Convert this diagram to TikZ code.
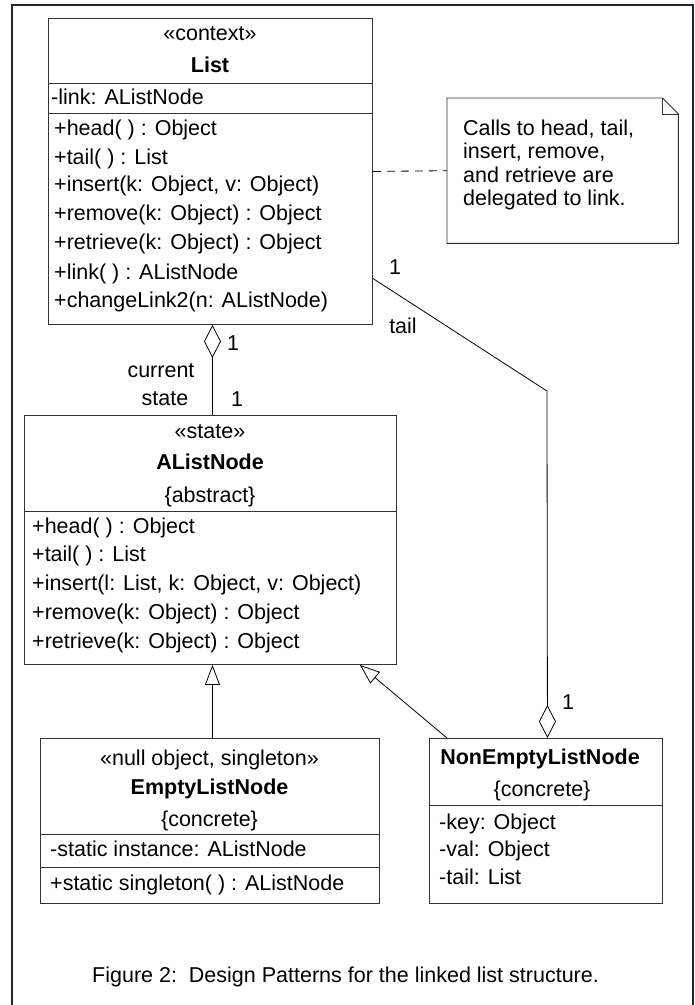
\documentclass[tikz,border=0pt]{standalone}
\usepackage{fontspec}
\setmainfont{Liberation Sans}
\usetikzlibrary{arrows.meta}
\tikzset{
  classbox/.style={draw=black!80, line width=0.9pt, inner sep=0pt, anchor=north west},
  sepline/.style={draw=black!80, line width=0.9pt},
  txt/.style={inner sep=0pt, font=\fontsize{21.5}{26}\selectfont},
  ctr/.style={txt, anchor=base},
  lft/.style={txt, anchor=base west},
  lbl/.style={txt, anchor=center},
  conn/.style={draw=black, line width=0.8pt},
  aggr/.style={conn, {Diamond[open, length=33pt, width=17pt]}-},
  gener/.style={conn, -{Triangle[open, length=20pt, width=15pt]}},
}
\begin{document}
\begin{tikzpicture}[x=1pt, y=-1pt]
\useasboundingbox (0,0) rectangle (695,1005);

% outer frame (open at the bottom)
\draw[line width=1.8pt, black!85] (12,1006) -- (12,5) -- (693,5) -- (693,1006);

% ---------- List ----------
\node[classbox, minimum width=324pt, minimum height=306pt] (list) at (48,18) {};
\draw[sepline] (list.west |- 0,83) -- (list.east |- 0,83);
\draw[sepline] (list.west |- 0,113) -- (list.east |- 0,113);
\node[ctr] (listst) at (210,40.5) {«context»};
\node[ctr] (listname) at (210,72.5) {\textbf{List}};
\node[lft] (lista1) at (51,104.5) {-link: AListNode};
\node[lft] (listm1) at (54,135.5) {+head( ) : Object};
\node[lft] (listm2) at (54,164.5) {+tail( ) : List};
\node[lft] (listm3) at (54,191.5) {+insert(k: Object, v: Object)};
\node[lft] (listm4) at (54,220.5) {+remove(k: Object) : Object};
\node[lft] (listm5) at (54,249.5) {+retrieve(k: Object) : Object};
\node[lft] (listm6) at (54,279.5) {+link( ) : AListNode};
\node[lft] (listm7) at (54,307.5) {+changeLink2(n: AListNode)};

% ---------- note ----------
\node[inner sep=0pt, anchor=north west, minimum width=231pt, minimum height=145pt] (note) at (447,98) {};
\draw[sepline] (note.north west) -- ([xshift=-16pt]note.north east)
  -- ([yshift=-16pt]note.north east) -- (note.south east) -- (note.south west) -- cycle;
\draw[sepline] ([xshift=-16pt]note.north east) |- ([yshift=-16pt]note.north east);
\node[lft] (note1) at (463,135.5) {Calls to head, tail,};
\node[lft] (note2) at (463,158.5) {insert, remove,};
\node[lft] (note3) at (463,182.5) {and retrieve are};
\node[lft] (note4) at (463,205.5) {delegated to link.};
\draw[conn, dash pattern=on 8pt off 6pt] (list.east) -- (note.west);

% ---------- AListNode ----------
\node[classbox, minimum width=372pt, minimum height=249pt] (alist) at (24,415) {};
\draw[sepline] (alist.west |- 0,511) -- (alist.east |- 0,511);
\node[ctr] (alistst) at (210,438.5) {«state»};
\node[ctr] (alistname) at (210,469.5) {\textbf{AListNode}};
\node[ctr] (alistprop) at (210,502.5) {\{abstract\}};
\node[lft] (alistm1) at (32,533.5) {+head( ) : Object};
\node[lft] (alistm2) at (32,561.5) {+tail( ) : List};
\node[lft] (alistm3) at (32,590.5) {+insert(l: List, k: Object, v: Object)};
\node[lft] (alistm4) at (32,619.5) {+remove(k: Object) : Object};
\node[lft] (alistm5) at (32,648.5) {+retrieve(k: Object) : Object};

% ---------- EmptyListNode ----------
\node[classbox, minimum width=339pt, minimum height=165pt] (empty) at (40,738) {};
\draw[sepline] (empty.west |- 0,834) -- (empty.east |- 0,834);
\draw[sepline] (empty.west |- 0,867) -- (empty.east |- 0,867);
\node[ctr] (emptyst) at (209.5,765.5) {«null object, singleton»};
\node[ctr] (emptyname) at (209.5,794.5) {\textbf{EmptyListNode}};
\node[ctr] (emptyprop) at (209.5,826.5) {\{concrete\}};
\node[lft] (emptya1) at (50,856.5) {-static instance: AListNode};
\node[lft] (emptym1) at (50,890.5) {+static singleton( ) : AListNode};

% ---------- NonEmptyListNode ----------
\node[classbox, minimum width=233pt, minimum height=165pt] (nonempty) at (429,738) {};
\draw[sepline] (nonempty.west |- 0,805) -- (nonempty.east |- 0,805);
\node[ctr] (nonemptyname) at (540,764.5) {\textbf{NonEmptyListNode}};
\node[ctr] (nonemptyprop) at (542,796.5) {\{concrete\}};
\node[lft] (nonemptya1) at (439,829.5) {-key: Object};
\node[lft] (nonemptya2) at (439,856.5) {-val: Object};
\node[lft] (nonemptya3) at (439,884.5) {-tail: List};

% ---------- relations ----------
% List <>-- AListNode (current state)
\draw[aggr] ([xshift=2pt]list.south) -- ([xshift=2pt]alist.north);
\node[lbl] (m1) at (233,343) {1};
\node[lbl] (rolecur) at (161,371) {current};
\node[lbl] (rolest) at (165,399) {state};
\node[lbl] (m2) at (237,399) {1};

% NonEmptyListNode <>-- List (tail)
\coordinate (bend) at (547,391);
\draw[aggr] ([xshift=1.5pt]nonempty.north) -- (bend) -- ([yshift=-107pt]list.east);
\node[lbl] (m3) at (395,267) {1};
\node[lbl] (roletail) at (403,326) {tail};
\node[lbl] (m4) at (568,702) {1};

% generalisations
\draw[gener] ([xshift=2.5pt]empty.north) -- ([xshift=2pt]alist.south);
\draw[gener] ([xshift=18pt]nonempty.north west) -- ([xshift=-37pt]alist.south east);

% ---------- caption ----------
\node[lft] (caption) at (92,982.5) {Figure 2:\ \ Design Patterns for the linked list structure.};
\end{tikzpicture}
\end{document}
